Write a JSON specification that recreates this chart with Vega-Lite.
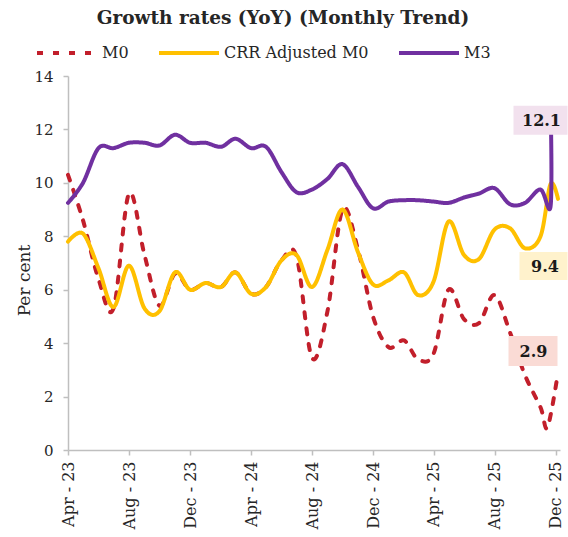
{
  "$schema": "https://vega.github.io/schema/vega-lite/v6.json",
  "width": 492,
  "height": 374,
  "autosize": {"type": "none"},
  "padding": {"left": 68, "top": 76, "right": 8, "bottom": 87},
  "background": "white",
  "config": {"view": {"stroke": null}},
  "title": {
    "text": "Growth rates (YoY) (Monthly Trend)",
    "font": "DejaVu Serif",
    "fontSize": 18.5,
    "fontWeight": "bold",
    "color": "#262626",
    "anchor": "middle",
    "dx": -31,
    "offset": -6
  },
  "data": {
    "values": [
      {"series": "M0", "date": "2023-04-01T00:00", "value": 10.3},
      {"series": "M0", "date": "2023-05-01T00:00", "value": 8.6},
      {"series": "M0", "date": "2023-06-01T00:00", "value": 6.4},
      {"series": "M0", "date": "2023-07-01T00:00", "value": 5.3},
      {"series": "M0", "date": "2023-08-01T00:00", "value": 9.6},
      {"series": "M0", "date": "2023-09-01T00:00", "value": 7.3},
      {"series": "M0", "date": "2023-10-01T00:00", "value": 5.4},
      {"series": "M0", "date": "2023-11-01T00:00", "value": 6.6},
      {"series": "M0", "date": "2023-12-01T00:00", "value": 6.0},
      {"series": "M0", "date": "2024-01-01T00:00", "value": 6.25},
      {"series": "M0", "date": "2024-02-01T00:00", "value": 6.1},
      {"series": "M0", "date": "2024-03-01T00:00", "value": 6.65},
      {"series": "M0", "date": "2024-04-01T00:00", "value": 5.85},
      {"series": "M0", "date": "2024-05-01T00:00", "value": 6.1},
      {"series": "M0", "date": "2024-06-01T00:00", "value": 7.1},
      {"series": "M0", "date": "2024-07-01T00:00", "value": 7.25},
      {"series": "M0", "date": "2024-08-01T00:00", "value": 3.45},
      {"series": "M0", "date": "2024-09-01T00:00", "value": 5.2},
      {"series": "M0", "date": "2024-10-01T00:00", "value": 9.0},
      {"series": "M0", "date": "2024-11-01T00:00", "value": 7.5},
      {"series": "M0", "date": "2024-12-01T00:00", "value": 5.0},
      {"series": "M0", "date": "2025-01-01T00:00", "value": 3.85},
      {"series": "M0", "date": "2025-02-01T00:00", "value": 4.1},
      {"series": "M0", "date": "2025-03-01T00:00", "value": 3.4},
      {"series": "M0", "date": "2025-04-01T00:00", "value": 3.6},
      {"series": "M0", "date": "2025-05-01T00:00", "value": 6.0},
      {"series": "M0", "date": "2025-06-01T00:00", "value": 4.9},
      {"series": "M0", "date": "2025-07-01T00:00", "value": 4.75},
      {"series": "M0", "date": "2025-08-01T00:00", "value": 5.8},
      {"series": "M0", "date": "2025-09-01T00:00", "value": 4.4},
      {"series": "M0", "date": "2025-10-01T00:00", "value": 2.8},
      {"series": "M0", "date": "2025-11-01T00:00", "value": 1.6},
      {"series": "M0", "date": "2025-11-15T00:00", "value": 0.85},
      {"series": "M0", "date": "2025-12-06T00:00", "value": 2.9},
      {"series": "CRR Adjusted M0", "date": "2023-04-01T00:00", "value": 7.8},
      {"series": "CRR Adjusted M0", "date": "2023-05-01T00:00", "value": 8.1},
      {"series": "CRR Adjusted M0", "date": "2023-06-01T00:00", "value": 6.8},
      {"series": "CRR Adjusted M0", "date": "2023-07-01T00:00", "value": 5.35},
      {"series": "CRR Adjusted M0", "date": "2023-08-01T00:00", "value": 6.9},
      {"series": "CRR Adjusted M0", "date": "2023-09-01T00:00", "value": 5.3},
      {"series": "CRR Adjusted M0", "date": "2023-10-01T00:00", "value": 5.2},
      {"series": "CRR Adjusted M0", "date": "2023-11-01T00:00", "value": 6.65},
      {"series": "CRR Adjusted M0", "date": "2023-12-01T00:00", "value": 6.0},
      {"series": "CRR Adjusted M0", "date": "2024-01-01T00:00", "value": 6.25},
      {"series": "CRR Adjusted M0", "date": "2024-02-01T00:00", "value": 6.1},
      {"series": "CRR Adjusted M0", "date": "2024-03-01T00:00", "value": 6.65},
      {"series": "CRR Adjusted M0", "date": "2024-04-01T00:00", "value": 5.85},
      {"series": "CRR Adjusted M0", "date": "2024-05-01T00:00", "value": 6.1},
      {"series": "CRR Adjusted M0", "date": "2024-06-01T00:00", "value": 7.1},
      {"series": "CRR Adjusted M0", "date": "2024-07-01T00:00", "value": 7.3},
      {"series": "CRR Adjusted M0", "date": "2024-08-01T00:00", "value": 6.1},
      {"series": "CRR Adjusted M0", "date": "2024-09-01T00:00", "value": 7.5},
      {"series": "CRR Adjusted M0", "date": "2024-10-01T00:00", "value": 9.0},
      {"series": "CRR Adjusted M0", "date": "2024-11-01T00:00", "value": 7.4},
      {"series": "CRR Adjusted M0", "date": "2024-12-01T00:00", "value": 6.2},
      {"series": "CRR Adjusted M0", "date": "2025-01-01T00:00", "value": 6.35},
      {"series": "CRR Adjusted M0", "date": "2025-02-01T00:00", "value": 6.65},
      {"series": "CRR Adjusted M0", "date": "2025-03-01T00:00", "value": 5.8},
      {"series": "CRR Adjusted M0", "date": "2025-04-01T00:00", "value": 6.3},
      {"series": "CRR Adjusted M0", "date": "2025-05-01T00:00", "value": 8.55},
      {"series": "CRR Adjusted M0", "date": "2025-06-01T00:00", "value": 7.3},
      {"series": "CRR Adjusted M0", "date": "2025-07-01T00:00", "value": 7.15},
      {"series": "CRR Adjusted M0", "date": "2025-08-01T00:00", "value": 8.25},
      {"series": "CRR Adjusted M0", "date": "2025-09-01T00:00", "value": 8.3},
      {"series": "CRR Adjusted M0", "date": "2025-10-01T00:00", "value": 7.55},
      {"series": "CRR Adjusted M0", "date": "2025-11-01T00:00", "value": 8.0},
      {"series": "CRR Adjusted M0", "date": "2025-11-21T00:00", "value": 9.95},
      {"series": "CRR Adjusted M0", "date": "2025-12-06T00:00", "value": 9.4},
      {"series": "M3", "date": "2023-04-01T00:00", "value": 9.25},
      {"series": "M3", "date": "2023-05-01T00:00", "value": 10.0},
      {"series": "M3", "date": "2023-06-01T00:00", "value": 11.3},
      {"series": "M3", "date": "2023-07-01T00:00", "value": 11.3},
      {"series": "M3", "date": "2023-08-01T00:00", "value": 11.5},
      {"series": "M3", "date": "2023-09-01T00:00", "value": 11.5},
      {"series": "M3", "date": "2023-10-01T00:00", "value": 11.4},
      {"series": "M3", "date": "2023-11-01T00:00", "value": 11.8},
      {"series": "M3", "date": "2023-12-01T00:00", "value": 11.5},
      {"series": "M3", "date": "2024-01-01T00:00", "value": 11.5},
      {"series": "M3", "date": "2024-02-01T00:00", "value": 11.35},
      {"series": "M3", "date": "2024-03-01T00:00", "value": 11.65},
      {"series": "M3", "date": "2024-04-01T00:00", "value": 11.3},
      {"series": "M3", "date": "2024-05-01T00:00", "value": 11.35},
      {"series": "M3", "date": "2024-06-01T00:00", "value": 10.4},
      {"series": "M3", "date": "2024-07-01T00:00", "value": 9.65},
      {"series": "M3", "date": "2024-08-01T00:00", "value": 9.75},
      {"series": "M3", "date": "2024-09-01T00:00", "value": 10.15},
      {"series": "M3", "date": "2024-10-01T00:00", "value": 10.7},
      {"series": "M3", "date": "2024-11-01T00:00", "value": 9.85},
      {"series": "M3", "date": "2024-12-01T00:00", "value": 9.05},
      {"series": "M3", "date": "2025-01-01T00:00", "value": 9.3},
      {"series": "M3", "date": "2025-02-01T00:00", "value": 9.35},
      {"series": "M3", "date": "2025-03-01T00:00", "value": 9.35},
      {"series": "M3", "date": "2025-04-01T00:00", "value": 9.3},
      {"series": "M3", "date": "2025-05-01T00:00", "value": 9.25},
      {"series": "M3", "date": "2025-06-01T00:00", "value": 9.45},
      {"series": "M3", "date": "2025-07-01T00:00", "value": 9.6},
      {"series": "M3", "date": "2025-08-01T00:00", "value": 9.8},
      {"series": "M3", "date": "2025-09-01T00:00", "value": 9.2},
      {"series": "M3", "date": "2025-10-01T00:00", "value": 9.25},
      {"series": "M3", "date": "2025-11-01T00:00", "value": 9.75},
      {"series": "M3", "date": "2025-11-21T00:00", "value": 9.1},
      {"series": "M3", "date": "2025-11-22T00:00", "value": 12.1}
    ]
  },
  "encoding": {
    "x": {
      "field": "date",
      "type": "temporal",
      "scale": {"domain": [{"year": 2023, "month": 4, "date": 1}, {"year": 2025, "month": 12, "date": 10}]},
      "axis": {
        "title": null,
        "values": [
          {"year": 2023, "month": 4, "date": 1},
          {"year": 2023, "month": 8, "date": 1},
          {"year": 2023, "month": 12, "date": 1},
          {"year": 2024, "month": 4, "date": 1},
          {"year": 2024, "month": 8, "date": 1},
          {"year": 2024, "month": 12, "date": 1},
          {"year": 2025, "month": 4, "date": 1},
          {"year": 2025, "month": 8, "date": 1},
          {"year": 2025, "month": 12, "date": 1}
        ],
        "format": "%b - %y",
        "labelAngle": -90,
        "labelAlign": "right",
        "labelBaseline": "middle",
        "labelFont": "DejaVu Serif",
        "labelFontSize": 16,
        "labelColor": "#262626",
        "labelPadding": 6,
        "labelFlush": false,
        "labelOverlap": false,
        "domainColor": "#BFBFBF",
        "domainWidth": 1.5,
        "tickColor": "#BFBFBF",
        "tickWidth": 1.5,
        "tickSize": 5,
        "grid": false
      }
    },
    "y": {
      "field": "value",
      "type": "quantitative",
      "scale": {"domain": [0, 14]},
      "axis": {
        "title": "Per cent",
        "titleFont": "DejaVu Serif",
        "titleFontSize": 17,
        "titleFontWeight": "normal",
        "titleColor": "#262626",
        "titlePadding": 0,
        "titleY": 204,
        "values": [0, 2, 4, 6, 8, 10, 12, 14],
        "labelFont": "DejaVu Serif",
        "labelFontSize": 15,
        "labelColor": "#262626",
        "labelPadding": 10,
        "domainColor": "#BFBFBF",
        "domainWidth": 1.5,
        "tickColor": "#BFBFBF",
        "tickWidth": 1.5,
        "tickSize": 5,
        "grid": false
      }
    }
  },
  "layer": [
    {
      "mark": {"type": "line", "interpolate": "cardinal", "strokeWidth": 4, "strokeCap": "round", "strokeJoin": "round"},
      "encoding": {
        "color": {
          "field": "series",
          "type": "nominal",
          "scale": {"domain": ["M0", "CRR Adjusted M0", "M3"], "range": ["#C21F2B", "#FFC000", "#7030A0"]},
          "legend": {
            "title": null,
            "orient": "none",
            "legendX": -33,
            "legendY": -55,
            "direction": "horizontal",
            "symbolType": "stroke",
            "symbolSize": 3600,
            "symbolStrokeWidth": 4,
            "labelFont": "DejaVu Serif",
            "labelFontSize": 16,
            "labelColor": "#262626",
            "labelOffset": 3,
            "columnPadding": 22
          }
        },
        "strokeDash": {
          "field": "series",
          "type": "nominal",
          "scale": {"domain": ["M0", "CRR Adjusted M0", "M3"], "range": [[6, 10], [1, 0], [1, 0]]},
          "legend": {
            "title": null,
            "orient": "none",
            "legendX": -33,
            "legendY": -55,
            "direction": "horizontal",
            "symbolType": "stroke",
            "symbolSize": 3600,
            "symbolStrokeWidth": 4,
            "labelFont": "DejaVu Serif",
            "labelFontSize": 16,
            "labelColor": "#262626",
            "labelOffset": 3,
            "columnPadding": 22
          }
        }
      }
    },
    {
      "transform": [{"filter": "datum.series === 'M3' && datum.value === 12.1"}],
      "mark": {"type": "point", "shape": "M-37.5,-21H16.5V8H-37.5Z", "size": 4, "filled": true, "fill": "#F2E1EE", "opacity": 1, "strokeWidth": 0}
    },
    {
      "transform": [{"filter": "datum.series === 'CRR Adjusted M0' && datum.value === 9.4"}],
      "mark": {"type": "point", "shape": "M-38.5,53H9.5V81H-38.5Z", "size": 4, "filled": true, "fill": "#FFF2CC", "opacity": 1, "strokeWidth": 0}
    },
    {
      "transform": [{"filter": "datum.series === 'M0' && datum.value === 2.9"}],
      "mark": {"type": "point", "shape": "M-49.5,-36.5H-0.5V-6.5H-49.5Z", "size": 4, "filled": true, "fill": "#FADBD5", "opacity": 1, "strokeWidth": 0}
    },
    {
      "transform": [{"filter": "datum.series === 'M3' && datum.value === 12.1"}],
      "mark": {"type": "text", "font": "DejaVu Serif", "fontSize": 16, "fontWeight": "bold", "color": "#1A1A1A", "align": "center", "baseline": "middle", "dx": -9.5, "dy": -6},
      "encoding": {"text": {"field": "value", "type": "quantitative", "format": ".1f"}}
    },
    {
      "transform": [{"filter": "datum.series === 'CRR Adjusted M0' && datum.value === 9.4"}],
      "mark": {"type": "text", "font": "DejaVu Serif", "fontSize": 16, "fontWeight": "bold", "color": "#1A1A1A", "align": "center", "baseline": "middle", "dx": -13, "dy": 68},
      "encoding": {"text": {"field": "value", "type": "quantitative", "format": ".1f"}}
    },
    {
      "transform": [{"filter": "datum.series === 'M0' && datum.value === 2.9"}],
      "mark": {"type": "text", "font": "DejaVu Serif", "fontSize": 16, "fontWeight": "bold", "color": "#1A1A1A", "align": "center", "baseline": "middle", "dx": -24.5, "dy": -21},
      "encoding": {"text": {"field": "value", "type": "quantitative", "format": ".1f"}}
    }
  ]
}
